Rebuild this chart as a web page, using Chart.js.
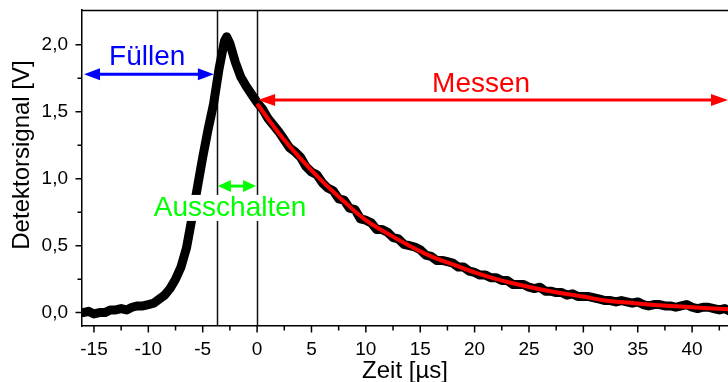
<!DOCTYPE html>
<html lang="de">
<head>
<meta charset="UTF-8">
<title>Detektorsignal</title>
<style>
  html, body { margin:0; padding:0; background:#fff; }
  #wrap { width:728px; height:382px; position:relative; }
</style>
<script src="https://cdn.jsdelivr.net/npm/chart.js"></script>
</head>
<body>
<div id="wrap"><canvas id="c"></canvas></div>
<script>
// measured signal (µs, V)
const signalX = [-16,-15.5,-15,-14.5,-14,-13.5,-13,-12.5,-12,-11.5,-11,-10.5,-10,-9.5,-9,-8.5,-8,-7.5,-7,-6.5,-6,-5.5,-5,-4.5,-4,-3.5,-3,-2.8,-2.5,-2,-1.5,-1,-0.5,0,
  0.5,1,1.5,2,2.5,3,3.5,4,4.5,5,5.5,6,6.5,7,7.5,8,8.5,9,9.5,10,10.5,11,11.5,12,12.5,13,13.5,14,14.5,15,15.5,16,16.5,17,17.5,18,18.5,19,19.5,20,
  20.5,21,21.5,22,22.5,23,23.5,24,24.5,25,25.5,26,26.5,27,27.5,28,28.5,29,29.5,30,30.5,31,31.5,32,32.5,33,33.5,34,34.5,35,35.5,36,36.5,37,37.5,38,38.5,39,39.5,40,40.5,41,41.5,42,42.5,43,43.5];
const signalY = [0.00,0.01,-0.01,0.00,0.00,0.02,0.02,0.03,0.02,0.04,0.05,0.05,0.06,0.07,0.10,0.13,0.18,0.25,0.34,0.48,0.70,0.93,1.16,1.37,1.56,1.82,2.03,2.06,2.01,1.87,1.76,1.69,1.63,1.57,
  1.52,1.45,1.40,1.35,1.29,1.23,1.20,1.16,1.09,1.05,1.03,0.97,0.93,0.91,0.85,0.84,0.78,0.77,0.70,0.69,0.67,0.62,0.62,0.60,0.56,0.55,0.51,0.50,0.49,0.47,0.43,0.42,0.39,0.39,0.38,0.37,0.34,0.34,0.31,0.30,
  0.28,0.28,0.26,0.26,0.24,0.24,0.21,0.21,0.21,0.19,0.18,0.19,0.16,0.16,0.15,0.15,0.13,0.14,0.12,0.12,0.12,0.11,0.10,0.09,0.09,0.08,0.09,0.08,0.07,0.08,0.06,0.05,0.06,0.06,0.05,0.05,0.04,0.05,0.06,0.04,0.03,0.04,0.04,0.03,0.02,0.03,0.01];

// exponential fit of the decay
const fitX = [0,2,4,6,8,10,12,14,16,18,20,22,24,26,28,30,32,34,36,38,40,42,43.5];
const fitY = [1.56,1.34,1.15,0.98,0.83,0.69,0.59,0.50,0.42,0.36,0.30,0.25,0.21,0.175,0.145,0.12,0.09,0.075,0.06,0.05,0.04,0.03,0.025];

// axes
const xRange = [-16.1, 43.3];
const yRange = [-0.1, 2.26];
const xMajor = [-15,-10,-5,0,5,10,15,20,25,30,35,40];
const xMinor = [-12.5,-7.5,-2.5,2.5,7.5,12.5,17.5,22.5,27.5,32.5,37.5,42.5];
const yMajor = [0,0.5,1,1.5,2];
const yMinor = [0.25,0.75,1.25,1.75];
const xTitle = 'Zeit [µs]';
const yTitle = 'Detektorsignal [V]';

// phases
const switchOff = -3.7;
const measureStart = 0;
const phaseLabels = ['Füllen','Ausschalten','Messen'];
const phaseColors = ['#0000ff','#00ff00','#ff0000'];
const arrowY = [1.78, 0.945, 1.587];
const labelX = [-10.1, -2.48, 20.6];
const labelY = [1.85, 0.722, 1.65];

const FONT = '"Liberation Sans", Arial, sans-serif';

const toPts = (xs, ys) => xs.map((x, i) => ({x, y: ys[i]}));

function arrowHead(ctx, x, y, dir, len, half) {
  ctx.beginPath();
  ctx.moveTo(x, y);
  ctx.lineTo(x - dir * len, y - half);
  ctx.lineTo(x - dir * len, y + half);
  ctx.closePath();
  ctx.fill();
}

function dblArrow(ctx, x1, x2, y, color, len, half) {
  ctx.save();
  ctx.strokeStyle = color; ctx.fillStyle = color; ctx.lineWidth = 3;
  ctx.beginPath(); ctx.moveTo(x1 + len - 2, y); ctx.lineTo(x2 - len + 2, y); ctx.stroke();
  arrowHead(ctx, x1, y, -1, len, half);
  arrowHead(ctx, x2, y, 1, len, half);
  ctx.restore();
}

const frame = {
  id: 'frame',
  beforeDatasetsDraw(chart) {
    const {ctx, chartArea: a, scales: {x}} = chart;
    ctx.save();
    ctx.strokeStyle = '#111'; ctx.lineWidth = 1.5;
    [switchOff, measureStart].forEach(v => {
      const px = Math.round(x.getPixelForValue(v)) + 0.5;
      ctx.beginPath(); ctx.moveTo(px, a.top); ctx.lineTo(px, a.bottom); ctx.stroke();
    });
    ctx.restore();
  },
  afterDatasetsDraw(chart) {
    const {ctx, chartArea: a, scales: {x, y}} = chart;
    const xs = [x.getPixelForValue(xRange[0]) + 2, x.getPixelForValue(switchOff) - 3,
                x.getPixelForValue(switchOff) + 1, x.getPixelForValue(measureStart) - 1,
                x.getPixelForValue(measureStart) + 1, a.right];
    dblArrow(ctx, xs[0], xs[1], y.getPixelForValue(arrowY[0]), phaseColors[0], 16, 6);
    dblArrow(ctx, xs[2], xs[3], y.getPixelForValue(arrowY[1]), phaseColors[1], 13, 6);
    dblArrow(ctx, xs[4], xs[5], y.getPixelForValue(arrowY[2]), phaseColors[2], 17, 6);

    ctx.save();
    ctx.font = '28px ' + FONT;
    ctx.textAlign = 'center'; ctx.textBaseline = 'alphabetic';
    phaseLabels.forEach((t, i) => {
      const px = x.getPixelForValue(labelX[i]), py = y.getPixelForValue(labelY[i]);
      if (i === 1) {
        ctx.fillStyle = '#fff';
        const w = ctx.measureText(t).width;
        ctx.fillRect(px - w / 2 - 1, py - 21, w + 2, 26);
      }
      ctx.fillStyle = phaseColors[i];
      ctx.fillText(t, px, py);
    });
    ctx.restore();
  },
  afterDraw(chart) {
    const {ctx, chartArea: a, scales: {x, y}} = chart;
    ctx.save();
    ctx.strokeStyle = '#000'; ctx.lineWidth = 1.5;
    ctx.beginPath(); ctx.moveTo(a.left, a.top + 0.5); ctx.lineTo(a.right, a.top + 0.5); ctx.stroke();
    ctx.beginPath();
    xMajor.forEach(v => { const p = x.getPixelForValue(v); ctx.moveTo(p, a.bottom); ctx.lineTo(p, a.bottom + 6.5); });
    xMinor.forEach(v => { const p = x.getPixelForValue(v); ctx.moveTo(p, a.bottom); ctx.lineTo(p, a.bottom + 4.5); });
    yMajor.forEach(v => { const p = y.getPixelForValue(v); ctx.moveTo(a.left, p); ctx.lineTo(a.left - 6.5, p); });
    yMinor.forEach(v => { const p = y.getPixelForValue(v); ctx.moveTo(a.left, p); ctx.lineTo(a.left - 4.5, p); });
    ctx.stroke();

    // y title, set a little above the middle of the axis
    ctx.fillStyle = '#000';
    ctx.font = '24px ' + FONT;
    ctx.textAlign = 'center'; ctx.textBaseline = 'middle';
    ctx.translate(22, (a.top + a.bottom) / 2 - 13);
    ctx.rotate(-Math.PI / 2);
    ctx.fillText(yTitle, 0, 0);
    ctx.restore();
  }
};

new Chart(document.getElementById('c'), {
  type: 'line',
  data: {
    datasets: [
      { label: 'Fit', data: toPts(fitX, fitY), borderColor: '#ff0000', borderWidth: 4,
        pointRadius: 0, tension: 0.4, order: 1 },
      { label: 'Signal', data: toPts(signalX, signalY), borderColor: '#000', borderWidth: 9,
        borderJoinStyle: 'round', borderCapStyle: 'round', pointRadius: 0, tension: 0, order: 2 }
    ]
  },
  options: {
    responsive: true, maintainAspectRatio: false, animation: false,
    layout: { padding: { top: 10, right: 0, left: 0, bottom: 0 } },
    plugins: { legend: { display: false }, tooltip: { enabled: false } },
    scales: {
      x: {
        type: 'linear', min: xRange[0], max: xRange[1],
        afterBuildTicks: s => { s.ticks = xMajor.map(v => ({value: v})); },
        afterFit: s => { s.height = 56; s.paddingLeft = 0; s.paddingRight = 0; },
        grid: { display: false, drawTicks: false },
        border: { display: true, color: '#000', width: 1.5 },
        ticks: { autoSkip: false, maxRotation: 0, padding: 12, color: '#000',
                 font: { family: FONT, size: 19 }, callback: v => String(v) },
        title: { display: true, text: xTitle, color: '#000',
                 font: { family: FONT, size: 24, lineHeight: 0.9 }, padding: { top: 0, bottom: 0 } }
      },
      y: {
        type: 'linear', min: yRange[0], max: yRange[1],
        afterBuildTicks: s => { s.ticks = yMajor.map(v => ({value: v})); },
        afterFit: s => { s.width = 82; s.paddingTop = 0; s.paddingBottom = 0; },
        grid: { display: false, drawTicks: false },
        border: { display: true, color: '#000', width: 1.5 },
        ticks: { autoSkip: false, padding: 14, color: '#000',
                 font: { family: FONT, size: 19 }, callback: v => v.toFixed(1).replace('.', ',') },
        title: { display: false }
      }
    }
  },
  plugins: [frame]
});
</script>
</body>
</html>
